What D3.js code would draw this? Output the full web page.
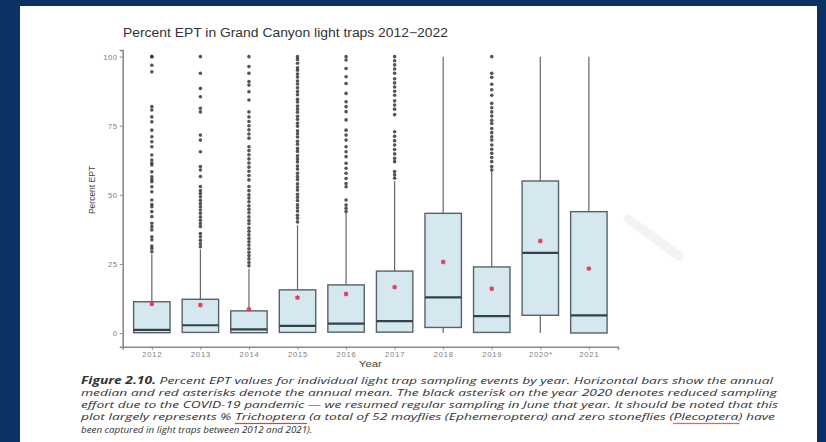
<!DOCTYPE html>
<html>
<head>
<meta charset="utf-8">
<script src="https://cdn.jsdelivr.net/npm/d3@7"></script>
<style>
  body { margin: 0; background: #0b3262; }
  svg { display: block; }
</style>
</head>
<body>
<div id="chart"></div>
<script>
// Yearly summaries (percent EPT per light trap)
const years = ["2012", "2013", "2014", "2015", "2016", "2017", "2018", "2019", "2020*", "2021"];
const lowerWhisker = [0, 0, 0, 0, 0, 0, 0, 0, 0, 0];
const q1 = [0.1, 0.2, 0.1, 0.2, 0.3, 0.3, 2.0, 0.2, 6.4, 0];
const medians = [1.1, 2.8, 1.3, 2.6, 3.4, 4.3, 12.9, 6.1, 29.0, 6.4];
const q3 = [11.3, 12.2, 8.0, 15.6, 17.4, 22.4, 43.3, 23.9, 55.0, 43.9];
const upperWhisker = [28.5, 30.2, 23.2, 39.0, 43.2, 55.0, 100, 58.5, 100, 100];
const means = [10.5, 10.1, 8.6, 12.8, 14.1, 16.6, 25.7, 16.0, 33.3, 23.3];

const outliers2012 = [100, 100, 96.9, 94.5, 81.9, 80.7, 78.2, 76.4, 73.4, 71.0, 69.2, 67.4, 64.4, 62.6, 61.5, 60.8,
  58.3, 56.5, 55.5, 54.7, 52.9, 51.1, 48.1, 46.5, 45.7, 43.9, 42.1, 39.7, 38.5, 37.3, 34.8, 33.7, 31.5, 30.6, 29.4];
const outliers2013 = [100, 94.0, 88.5, 85.5, 81.3, 80.0, 71.6, 69.8, 65.6, 60.2, 59.0, 56.6, 53.0, 51.5, 50.5, 49.3,
  48.0, 46.8, 45.7, 44.5, 43.3, 42.0, 40.8, 39.6, 38.5, 36.0, 34.8, 33.5, 32.3, 31.2];
const outliers2014 = [100, 96.4, 94.0, 91.0, 89.7, 87.3, 84.3, 80.0, 78.2, 76.5, 75.0, 73.5, 72.0, 70.5, 67.4, 66.0,
  64.5, 63.0, 61.5, 60.0, 58.5, 57.0, 55.4, 53.0, 51.5, 50.0, 48.8, 47.5, 46.0, 44.8, 43.5, 42.0, 40.7, 39.5, 38.0,
  36.8, 35.5, 34.2, 33.0, 31.8, 30.5, 29.2, 28.0, 26.8, 25.5, 24.3];
const outliers2015 = [100, 99.0, 97.6, 96.0, 95.1, 93.7, 92.6, 91.2, 90.1, 88.7, 87.4, 86.2, 84.6, 83.6, 82.1, 81.0,
  79.9, 78.4, 77.3, 75.9, 74.8, 73.2, 72.1, 70.9, 69.4, 68.3, 66.8, 65.7, 64.1, 63.0, 61.9, 60.4, 59.3, 57.8, 56.6,
  55.5, 54.0, 52.8, 51.7, 50.2, 49.1, 47.9, 46.4, 45.3, 44.1, 42.6, 41.5, 40.2];
const outliers2016 = [100, 98.8, 95.7, 92.7, 90.3, 86.7, 83.7, 81.9, 80.1, 77.1, 73.4, 71.6, 69.8, 67.4, 65.6, 63.8,
  61.4, 59.6, 57.8, 55.9, 54.1, 52.9, 48.1, 46.3, 45.1, 43.9];
const outliers2017 = [100, 98.5, 97.0, 95.5, 94.0, 92.0, 90.5, 89.0, 87.5, 86.0, 84.0, 82.5, 81.0, 79.0, 72.8, 71.2,
  69.6, 68.0, 66.4, 64.8, 63.2, 62.0, 58.4, 57.2, 56.0];
const outliers2019 = [100, 94.0, 92.5, 90.0, 88.0, 86.0, 83.1, 81.5, 80.0, 78.5, 77.0, 75.8, 74.0, 72.5, 71.0, 69.8,
  68.0, 66.5, 65.0, 63.5, 62.0, 60.2, 59.0];
const outlierLists = [outliers2012, outliers2013, outliers2014, outliers2015, outliers2016, outliers2017, [],
  outliers2019, [], []];

const yTicks = [0, 25, 50, 75, 100];

const captionLines = [
  "Percent EPT values for individual light trap sampling events by year. Horizontal bars show the annual",
  "median and red asterisks denote the annual mean. The black asterisk on the year 2020 denotes reduced sampling",
  "effort due to the COVID-19 pandemic \u2014 we resumed regular sampling in June that year. It should be noted that this",
  "plot largely represents % Trichoptera (a total of 52 mayflies (Ephemeroptera) and zero stoneflies (Plecoptera) have",
  "been captured in light traps between 2012 and 2021)."
];
// right edge of each caption line (last line is left at its natural width)
const captionEnds = [773, 777, 778, 775, null];

class BoxChart {
  constructor(_config, _data) {
    this.config = {
      parentElement: _config.parentElement,
      containerWidth: 826,
      containerHeight: 442,
      plot: { left: 122.7, right: 618, top: 50, bottom: 346.8 },
      font: "Liberation Sans, Arial, sans-serif",
    };
    this.data = _data;
    this.initVis();
  }

  initVis() {
    let vis = this;
    const p = vis.config.plot;

    vis.svg = d3
      .select(vis.config.parentElement)
      .append("svg")
      .attr("width", vis.config.containerWidth)
      .attr("height", vis.config.containerHeight);

    // slide page
    vis.svg.append("rect").attr("x", 20).attr("y", 6).attr("width", 797).attr("height", 436).attr("fill", "#ffffff");

    // faint watermark stroke
    vis.svg
      .append("line")
      .attr("x1", 628).attr("y1", 219).attr("x2", 679).attr("y2", 256)
      .attr("stroke", "#f3f3f3").attr("stroke-width", 9).attr("stroke-linecap", "round");

    vis.xScale = d3.scalePoint().domain(years).range([p.left, p.right]).padding(0.6);
    vis.yScale = d3.scaleLinear().domain([-5, 102.4]).range([p.bottom, p.top]);

    vis.chart = vis.svg.append("g");

    vis.xAxisG = vis.svg.append("g").attr("transform", `translate(0,${p.bottom})`);
    vis.yAxisG = vis.svg.append("g").attr("transform", `translate(${p.left},0)`);

    vis.svg
      .append("text")
      .attr("x", 123)
      .attr("y", 37)
      .attr("font-family", vis.config.font)
      .attr("font-size", 12.3)
      .attr("fill", "#333")
      .attr("textLength", 325)
      .attr("lengthAdjust", "spacingAndGlyphs")
      .text("Percent EPT in Grand Canyon light traps 2012\u22122022");

    vis.svg
      .append("text")
      .attr("transform", "translate(95,190) rotate(-90)")
      .attr("text-anchor", "middle")
      .attr("font-family", vis.config.font)
      .attr("font-size", 8.5)
      .attr("fill", "#444")
      .text("Percent EPT");

    vis.svg
      .append("text")
      .attr("x", (p.left + p.right) / 2)
      .attr("y", 367)
      .attr("text-anchor", "middle")
      .attr("font-family", vis.config.font)
      .attr("font-size", 9.5)
      .attr("fill", "#444")
      .attr("textLength", 23)
      .attr("lengthAdjust", "spacingAndGlyphs")
      .text("Year");

    vis.updateVis();
  }

  updateVis() {
    let vis = this;
    vis.boxWidth = vis.xScale.step() * 0.75;
    vis.renderVis();
  }

  renderVis() {
    let vis = this;
    const x = vis.xScale;
    const y = vis.yScale;
    const bw = vis.boxWidth;

    const group = vis.chart
      .selectAll(".year")
      .data(vis.data, (d) => d.year)
      .join("g")
      .attr("class", "year")
      .attr("transform", (d) => `translate(${x(d.year)},0)`);

    // whiskers
    group
      .append("line")
      .attr("y1", (d) => y(d.hi))
      .attr("y2", (d) => y(d.q3))
      .attr("stroke", "#666")
      .attr("stroke-width", 1.2);
    group
      .append("line")
      .attr("y1", (d) => y(d.q1))
      .attr("y2", (d) => y(d.lo))
      .attr("stroke", "#666")
      .attr("stroke-width", 1.2);

    // outlier points
    group
      .selectAll(".outlier")
      .data((d) => d.outliers)
      .join("circle")
      .attr("class", "outlier")
      .attr("cy", (d) => y(d))
      .attr("r", 1.8)
      .attr("fill", "#2a2a2a")
      .attr("fill-opacity", 0.8);

    // box
    group
      .append("rect")
      .attr("x", -bw / 2)
      .attr("width", bw)
      .attr("y", (d) => y(d.q3))
      .attr("height", (d) => y(d.q1) - y(d.q3))
      .attr("fill", "#d5e8f0")
      .attr("stroke", "#56626a")
      .attr("stroke-width", 1.4);

    // median
    group
      .append("line")
      .attr("x1", -bw / 2)
      .attr("x2", bw / 2)
      .attr("y1", (d) => y(d.median))
      .attr("y2", (d) => y(d.median))
      .attr("stroke", "#33434c")
      .attr("stroke-width", 2.2);

    // mean marker
    group
      .append("circle")
      .attr("cy", (d) => y(d.mean))
      .attr("r", 2.2)
      .attr("fill", "#e6415a");
    group
      .append("path")
      .attr("transform", (d) => `translate(0,${y(d.mean)})`)
      .attr("d", d3.symbol(d3.symbolAsterisk, 16)())
      .attr("stroke", "#e6415a")
      .attr("stroke-width", 0.8);

    // axes
    const styleAxis = (g) => {
      g.select(".domain").attr("stroke", "#8a8a8a").attr("stroke-width", 1.6);
      g.selectAll(".tick line").attr("stroke", "#8a8a8a");
      g.selectAll("text").attr("fill", "#7d7d7d").attr("font-size", 7.6).attr("font-family", vis.config.font);
    };
    vis.xAxisG.call(d3.axisBottom(x).tickSize(3).tickPadding(2)).call(styleAxis);
    vis.xAxisG.selectAll(".tick text").attr("letter-spacing", 0.8);
    vis.yAxisG.call(d3.axisLeft(y).tickValues(yTicks).tickSize(3).tickPadding(2)).call(styleAxis);
    vis.yAxisG.selectAll(".tick text").attr("letter-spacing", 0.6);

    vis.renderCaption();
  }

  renderCaption() {
    let vis = this;
    const cap = vis.svg.append("g").attr("font-family", "Open Sans, Liberation Sans, sans-serif").attr("font-style", "italic");

    captionLines.forEach((line, i) => {
      const t = cap
        .append("text")
        .attr("x", 81)
        .attr("y", 383.5 + i * 12.3)
        .attr("font-size", 9.8)
        .attr("fill", "#333");
      if (captionEnds[i]) {
        t.attr("textLength", captionEnds[i] - 81).attr("lengthAdjust", "spacingAndGlyphs");
      }
      if (i === 0) {
        t.append("tspan").attr("font-weight", "bold").text("Figure 2.10.");
        t.append("tspan").text(" " + line);
      } else if (i === 3) {
        const parts = line.split(/(Trichoptera|Plecoptera)/);
        parts.forEach((s) => {
          const ts = t.append("tspan").text(s);
          if (s === "Trichoptera" || s === "Plecoptera") ts.attr("class", "spell");
        });
      } else {
        t.text(line);
      }
    });

    // spell-check squiggles
    cap.selectAll(".spell").each(function () {
      const node = this;
      const parent = node.parentNode;
      const full = parent.textContent;
      const start = full.indexOf(node.textContent);
      const a = parent.getStartPositionOfChar(start);
      const b = parent.getEndPositionOfChar(start + node.textContent.length - 1);
      let dstr = `M${a.x},${a.y + 2.5}`;
      for (let xx = a.x; xx < b.x; xx += 2) dstr += ` l1,1.2 l1,-1.2`;
      cap.append("path").attr("d", dstr).attr("fill", "none").attr("stroke", "#e02020").attr("stroke-width", 0.9);
    });
  }
}

const data = years.map((year, i) => ({
  year: year,
  lo: lowerWhisker[i],
  q1: q1[i],
  median: medians[i],
  q3: q3[i],
  hi: upperWhisker[i],
  mean: means[i],
  outliers: outlierLists[i],
}));

new BoxChart({ parentElement: "#chart" }, data);
</script>
</body>
</html>
